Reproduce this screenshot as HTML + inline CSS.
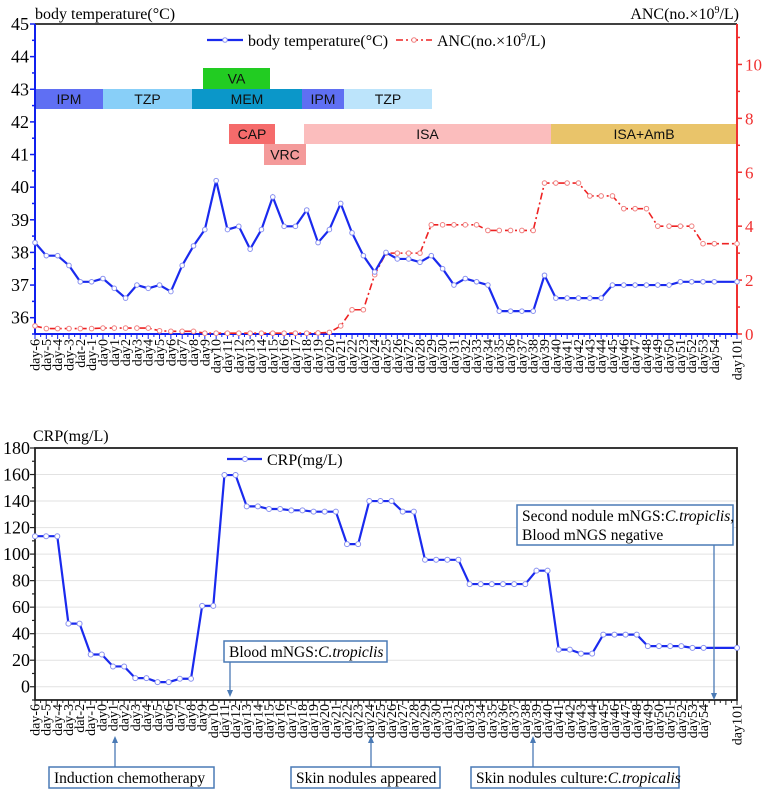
<!DOCTYPE html>
<html><head><meta charset="utf-8"><style>
body{margin:0;background:#fff}
svg{display:block}
text{font-family:"Liberation Serif","Times New Roman",serif}
text.blk{font-family:"Liberation Sans",sans-serif;font-size:14px}
</style></head><body>
<svg id="s" width="767" height="792" viewBox="0 0 767 792" xmlns="http://www.w3.org/2000/svg" font-family="Liberation Serif, serif"></svg>
<script>
const categories=["day-6","day-5","day-4","day-3","dat-2","day-1","day0"];
for(let d=1;d<=54;d++)categories.push("day"+d);
categories.push("day101");
const tempValues=[38.3,37.9,37.9,37.6,37.1,37.1,37.2,36.9,36.6,37.0,36.9,37.0,36.8,37.6,38.2,38.7,40.2,38.7,38.8,38.1,38.7,39.7,38.8,38.8,39.3,38.3,38.7,39.5,38.6,37.9,37.4,38.0,37.8,37.8,37.7,37.9,37.5,37.0,37.2,37.1,37.0,36.2,36.2,36.2,36.2,37.3,36.6,36.6,36.6,36.6,36.6,37.0,37.0,37.0,37.0,37.0,37.0,37.1,37.1,37.1,37.1,37.1];
const ancValues=[0.3,0.2,0.2,0.2,0.2,0.2,0.22,0.22,0.22,0.22,0.22,0.12,0.1,0.1,0.1,0.03,0.03,0.03,0.03,0.03,0.03,0.03,0.03,0.03,0.03,0.04,0.06,0.3,0.9,0.9,2.2,3.0,3.0,3.0,3.0,4.05,4.05,4.05,4.05,4.05,3.84,3.84,3.84,3.84,3.84,5.6,5.6,5.6,5.6,5.12,5.12,5.12,4.65,4.65,4.65,4.0,4.0,4.0,4.0,3.35,3.35,3.35];
const crpValues=[113.5,113.5,113.5,47.6,47.6,24.3,24.3,15.3,15.3,6.5,6.5,3.5,3.5,6,6,61,61,159.6,159.6,136,136,134,134,133,133,132,132,132,107.5,107.5,140,140,140,132,132,95.7,95.7,95.7,95.7,77.4,77.4,77.4,77.4,77.4,77.4,87.5,87.5,28,28,25,25,39.3,39.3,39.3,39.3,30.6,30.6,30.6,30.6,29.3,29.3,29.3];
const tempTicks=[36,37,38,39,40,41,42,43,44,45];
const ancTicks=[0,2,4,6,8,10];
const crpTicks=[0,20,40,60,80,100,120,140,160,180];

const NS="http://www.w3.org/2000/svg",S=document.getElementById('s');
function el(t,a,p){const e=document.createElementNS(NS,t);for(const k in a)e.setAttribute(k,a[k]);if(t==='text'&&!a['font-family'])e.setAttribute('font-family','Liberation Serif, serif');(p||S).appendChild(e);return e;}
const n=categories.length;
const tL=35,tR=737,tT=24,tB=334;
const xTop=i=>tL+(i===n-1?62:i)*(tR-tL)/62;
const yTemp=v=>tB-(v-35.5)*(tB-tT)/9.5;
const yAnc=v=>tB-v*(tB-tT)/11.5;
const bL=35,bR=737,bT=448,bB=700;
const xBot=i=>bL+(i===n-1?63:i)*(bR-bL)/63;
const yCrp=v=>bB-(v+10)*(bB-bT)/190;

const g1=el('g',{});

const blocks=[["IPM",35,103,89,109,"#5f6ff3"],["TZP",103,192,89,109,"#88cff8"],["MEM",192,302,89,109,"#0b97c9"],["IPM",302,344,89,109,"#5f6ff3"],["TZP",344,432,89,109,"#bce4fb"],["VA",203,270,68,89,"#22cc22"],["CAP",229,275,124,144,"#f56b6b"],["VRC",264,306,144,165,"#f49a9a"],["ISA",304,551,124,144,"#fbbdbd"],["ISA+AmB",551,737,124,144,"#e9c46a"]];
blocks.forEach(b=>{const r=el('rect',{x:b[1],y:b[3],width:b[2]-b[1],height:b[4]-b[3],fill:b[5]},g1);

const t=el('text',{x:(b[1]+b[2])/2,y:(b[3]+b[4])/2+5,'text-anchor':'middle',class:'blk','font-family':'Liberation Sans, sans-serif','font-size':14,fill:'#111'},g1);t.textContent=b[0];});
el('line',{x1:tL,y1:tT,x2:tR,y2:tT,stroke:'#000','stroke-width':1.5},g1);
el('line',{x1:tL,y1:tT,x2:tL,y2:tB,stroke:'#1020ee','stroke-width':2},g1);
el('line',{x1:tR,y1:tT,x2:tR,y2:tB,stroke:'#f03030','stroke-width':2},g1);
el('line',{x1:tL,y1:tB,x2:tR,y2:tB,stroke:'#1020ee','stroke-width':2},g1);
for(let v=35.5;v<=45.01;v+=0.5){const y=yTemp(v);const maj=Math.abs(v-Math.round(v))<0.01;
el('line',{x1:tL-(maj?5:3),y1:y,x2:tL,y2:y,stroke:'#1020ee','stroke-width':1.5},g1);}
tempTicks.forEach(v=>{const t=el('text',{x:tL-6,y:yTemp(v)+6,'text-anchor':'end','font-size':18},g1);t.textContent=v;});
for(let v=0;v<=11;v+=1){const y=yAnc(v);el('line',{x1:tR,y1:y,x2:tR+(v%2?3:5),y2:y,stroke:'#f03030','stroke-width':1.5},g1);}
ancTicks.forEach(v=>{const t=el('text',{x:tR+8,y:yAnc(v)+6,'font-size':17,fill:'#f03030'},g1);t.textContent=v;});
for(let k=0;k<=124;k++){const x=tL+k*(tR-tL)/124;el('line',{x1:x,y1:tB,x2:x,y2:tB+(k%2?3:5),stroke:'#1020ee','stroke-width':1},g1);}
categories.forEach((c,i)=>{const x=xTop(i)+4.5;const t=el('text',{transform:`translate(${x},${tB+5}) rotate(-90)`,'text-anchor':'end','font-size':14},g1);t.textContent=c;});
let t=el('text',{x:35,y:19,'font-size':16},g1);t.textContent='body temperature(°C)';

t=el('text',{x:739,y:19,'font-size':16,'text-anchor':'end'},g1);t.innerHTML='ANC(no.×10<tspan dy="-6" font-size="10">9</tspan><tspan dy="6">/L)</tspan>';

const ancLine=el('polyline',{points:ancValues.map((v,i)=>xTop(i)+','+yAnc(v)).join(' '),fill:'none',stroke:'#ee2222','stroke-width':1.6,'stroke-dasharray':'7 3 2 3'},g1);

ancValues.forEach((v,i)=>{const c=el('circle',{cx:xTop(i),cy:yAnc(v),r:2.3,fill:'#fff',stroke:'#f08080','stroke-width':1},g1);
});
const tLine=el('polyline',{points:tempValues.map((v,i)=>xTop(i)+','+yTemp(v)).join(' '),fill:'none',stroke:'#1a2aee','stroke-width':2.2},g1);

tempValues.forEach((v,i)=>{const c=el('circle',{cx:xTop(i),cy:yTemp(v),r:2.3,fill:'#fff',stroke:'#8890f0','stroke-width':1},g1);
});
const lg=el('g',{},g1);
el('line',{x1:207,y1:40,x2:243,y2:40,stroke:'#1a2aee','stroke-width':2.2},lg);el('circle',{cx:225,cy:40,r:2.3,fill:'#fff',stroke:'#8890f0'},lg);
t=el('text',{x:248,y:46,'font-size':16},lg);t.textContent='body temperature(°C)';
el('line',{x1:396,y1:40,x2:432,y2:40,stroke:'#ee2222','stroke-width':1.6,'stroke-dasharray':'7 3 2 3'},lg);el('circle',{cx:414,cy:40,r:2.3,fill:'#fff',stroke:'#f08080'},lg);
t=el('text',{x:437,y:46,'font-size':16},lg);t.innerHTML='ANC(no.×10<tspan dy="-6" font-size="10">9</tspan><tspan dy="6">/L)</tspan>';

const g2=el('g',{});
crpTicks.forEach(v=>{if(v<180)el('line',{x1:bL,y1:yCrp(v),x2:bR,y2:yCrp(v),stroke:'#e2e2e2','stroke-width':1},g2);
const tt=el('text',{x:bL-5,y:yCrp(v)+6,'text-anchor':'end','font-size':18},g2);tt.textContent=v;});
for(let v=-10;v<=180;v+=10)el('line',{x1:bL-(v%20===0?5:3),y1:yCrp(v),x2:bL,y2:yCrp(v),stroke:'#222','stroke-width':1.2},g2);
el('rect',{x:bL,y:bT,width:bR-bL,height:bB-bT,fill:'none',stroke:'#222','stroke-width':1.8},g2);
for(let k=0;k<=126;k++){const x=bL+k*(bR-bL)/126;el('line',{x1:x,y1:bB,x2:x,y2:bB+(k%2?3:5),stroke:'#222','stroke-width':1},g2);}
categories.forEach((c,i)=>{const x=xBot(i)+4.5;const tt=el('text',{transform:`translate(${x},${bB+4}) rotate(-90)`,'text-anchor':'end','font-size':14},g2);tt.textContent=c;});
t=el('text',{x:33,y:441,'font-size':16},g2);t.textContent='CRP(mg/L)';

const cLine=el('polyline',{points:crpValues.map((v,i)=>xBot(i)+','+yCrp(v)).join(' '),fill:'none',stroke:'#1a2aee','stroke-width':2.2},g2);

crpValues.forEach((v,i)=>{const c=el('circle',{cx:xBot(i),cy:yCrp(v),r:2.5,fill:'#fff',stroke:'#8890f0','stroke-width':1},g2);
});
const lg2=el('g',{},g2);
el('line',{x1:227,y1:459,x2:262,y2:459,stroke:'#1a2aee','stroke-width':2.2},lg2);el('circle',{cx:245,cy:459,r:2.5,fill:'#fff',stroke:'#8890f0'},lg2);
t=el('text',{x:267,y:465,'font-size':16},lg2);t.textContent='CRP(mg/L)';
const bc='#4a7ab5';
function ann(name,x,y,w,h,lines,ax,ay1,ay2){const g=el('g',{},g2);
el('rect',{x,y,width:w,height:h,fill:'#fff',stroke:bc,'stroke-width':1.5},g);
lines.forEach((l,k)=>{const tt=el('text',{x:x+5,y:y+16+k*19,'font-size':15.5},g);tt.innerHTML=l;});
el('line',{x1:ax,y1:ay1,x2:ax,y2:ay2+(ay2>ay1?-6:6),stroke:bc,'stroke-width':1.3},g);
const d=ay2>ay1?-1:1;el('polygon',{points:`${ax-3},${ay2+d*7} ${ax+3},${ay2+d*7} ${ax},${ay2}`,fill:bc},g);}
ann('annotation-blood-mngs',224,641,163,21,['Blood mNGS:<tspan font-style="italic">C.tropiclis</tspan>'],230,662,697);
ann('annotation-induction-chemotherapy',49,767,165,21,['Induction chemotherapy'],115,767,736);
ann('annotation-skin-nodules-appeared',291,767,149,21,['Skin nodules appeared'],371,767,736);
ann('annotation-skin-nodules-culture',471,767,208,21,['Skin nodules culture:<tspan font-style="italic">C.tropicalis</tspan>'],533,767,736);
ann('annotation-second-nodule',517,505,216,40,['Second nodule mNGS:<tspan font-style="italic">C.tropiclis</tspan>,','Blood mNGS negative'],714,545,700);
</script>
</body></html>
